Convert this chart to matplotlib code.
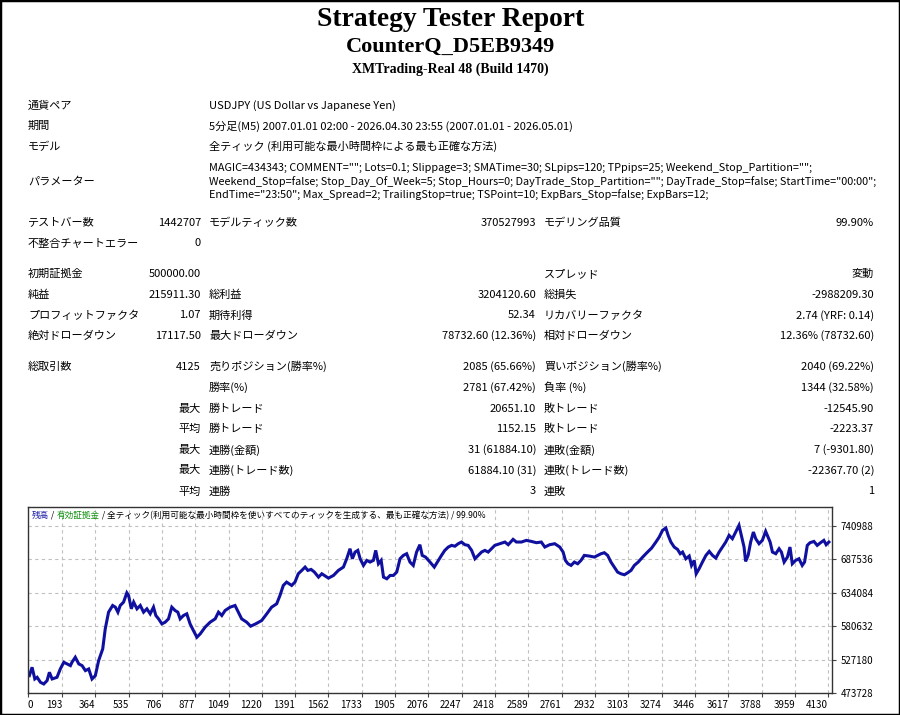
import matplotlib
matplotlib.use("Agg")
import matplotlib.pyplot as plt
from matplotlib.patches import Rectangle

plt.rcParams['font.family'] = ['Noto Sans CJK JP', 'DejaVu Sans']

# ---- report header ----
report_title = "Strategy Tester Report"
ea_name = "CounterQ_D5EB9349"
server_name = "XMTrading-Real 48 (Build 1470)"

info_labels = ["通貨ペア", "期間", "モデル"]
info_values = [
    "USDJPY (US Dollar vs Japanese Yen)",
    "5分足(M5) 2007.01.01 02:00 - 2026.04.30 23:55 (2007.01.01 - 2026.05.01)",
    "全ティック (利用可能な最小時間枠による最も正確な方法)",
]
param_label = "パラメーター"
param_lines = [
    'MAGIC=434343; COMMENT=""; Lots=0.1; Slippage=3; SMATime=30; SLpips=120; TPpips=25; Weekend_Stop_Partition="";',
    'Weekend_Stop=false; Stop_Day_Of_Week=5; Stop_Hours=0; DayTrade_Stop_Partition=""; DayTrade_Stop=false; StartTime="00:00";',
    'EndTime="23:50"; Max_Spread=2; TrailingStop=true; TSPoint=10; ExpBars_Stop=false; ExpBars=12;',
]

# ---- statistics table (label, value, label, value, label, value) ----
stat_rows = [
    ["テストバー数", "1442707", "モデルティック数", "370527993", "モデリング品質", "99.90%"],
    ["不整合チャートエラー", "0", "", "", "", ""],
    ["初期証拠金", "500000.00", "", "", "スプレッド", "変動"],
    ["純益", "215911.30", "総利益", "3204120.60", "総損失", "-2988209.30"],
    ["プロフィットファクタ", "1.07", "期待利得", "52.34", "リカバリーファクタ", "2.74 (YRF: 0.14)"],
    ["絶対ドローダウン", "17117.50", "最大ドローダウン", "78732.60 (12.36%)", "相対ドローダウン", "12.36% (78732.60)"],
    ["総取引数", "4125", "売りポジション(勝率%)", "2085 (65.66%)", "買いポジション(勝率%)", "2040 (69.22%)"],
    ["", "", "勝率(%)", "2781 (67.42%)", "負率 (%)", "1344 (32.58%)"],
    ["", "最大", "勝トレード", "20651.10", "敗トレード", "-12545.90"],
    ["", "平均", "勝トレード", "1152.15", "敗トレード", "-2223.37"],
    ["", "最大", "連勝(金額)", "31 (61884.10)", "連敗(金額)", "7 (-9301.80)"],
    ["", "最大", "連勝(トレード数)", "61884.10 (31)", "連敗(トレード数)", "-22367.70 (2)"],
    ["", "平均", "連勝", "3", "連敗", "1"],
]

# ---- balance curve ----
trades = [25, 39, 53, 65, 82, 99, 116, 128, 142, 167, 184, 202, 219, 236, 244, 261, 279, 296, 313, 330,
          347, 364, 381, 402, 415, 432, 453, 467, 480, 492, 509, 526, 535, 549, 561, 578, 595, 612, 629, 646,
          663, 675, 689, 706, 723, 740, 757, 774, 788, 800, 817, 834, 851, 868, 886, 903, 928, 954, 980, 997,
          1014, 1031, 1057, 1082, 1099, 1116, 1142, 1162, 1188, 1219, 1245, 1270, 1296, 1313, 1330, 1347, 1373, 1390, 1407,
          1425, 1442, 1456, 1473, 1490, 1511, 1528, 1541, 1562, 1588, 1613, 1639, 1656, 1673, 1685, 1699, 1713, 1725, 1742, 1759,
          1776, 1793, 1805, 1819, 1833, 1845, 1862, 1879, 1896, 1913, 1930, 1947, 1964, 1981, 1998, 2015, 2032, 2044, 2061, 2084,
          2106, 2127, 2143, 2160, 2178, 2195, 2212, 2229, 2246, 2263, 2280, 2298, 2315, 2332, 2349, 2366, 2383, 2400, 2417, 2443,
          2469, 2486, 2511, 2528, 2554, 2579, 2605, 2631, 2656, 2674, 2699, 2725, 2751, 2768, 2780, 2793,
          2809, 2826, 2843, 2860, 2877, 2903, 2929, 2946, 2963, 2980, 2997, 3014, 3031, 3048, 3065, 3083, 3100, 3117, 3134, 3154,
          3177, 3202, 3223, 3245, 3262, 3279, 3296, 3308, 3322, 3339, 3356, 3370, 3382, 3399, 3416, 3428, 3442, 3452, 3467, 3484,
          3502, 3519, 3536, 3553, 3570, 3587, 3604, 3621, 3638, 3655, 3672, 3684, 3698, 3706, 3719, 3732, 3746, 3758, 3775, 3792,
          3809, 3821, 3832, 3844, 3861, 3878, 3890, 3904, 3921, 3934, 3946, 3963, 3980, 3997, 4009, 4023, 4037, 4057, 4074, 4091,
          4108, 4120, 4134]
balance = [501523, 514886, 496178, 498850, 490833, 488160, 493505, 506868, 496178, 498850,
           512213, 522904, 520231, 517559, 522904, 530922, 520231, 517559, 509541, 512213,
           496178, 501523, 525576, 544285, 576356, 603082, 613772, 611100, 603082, 613772,
           619119, 634084, 629808, 608427, 619119, 608427, 613772, 603082, 608427, 600409,
           611100, 597737, 592391, 584374, 587046, 592391, 611100, 605755, 603082, 592391,
           597737, 600409, 584374, 573683, 562993, 568338, 579028, 587046, 592391, 603082,
           597737, 605755, 611100, 613772, 603082, 592391, 587046, 580632, 584374, 589719,
           600409, 611100, 616446, 629808, 645843, 651188, 645843, 651188, 664552,
           669897, 675242, 669897, 671500, 667225, 659208, 664552, 661880, 657604, 661880,
           669897, 675242, 688605, 704641, 688605, 699295, 701968, 688605, 677915, 685933,
           683260, 685933, 701968, 680587, 685933, 659208, 656536, 661880, 661880, 667225,
           688605, 693950, 696622, 683260, 677915, 699295, 711055, 693950, 691277, 683260,
           675242, 685933, 693950, 701968, 707313, 709986, 708650, 712658, 715331, 711055,
           709986, 701968, 688605, 693950, 699295, 701968, 699295, 704641, 709986, 712658,
           715331, 711055, 719607, 715331, 715331, 718004, 716319, 714262, 715331, 707313,
           711055, 712658, 707313, 699295, 685933, 680587,
           677915, 683260, 680587, 685933, 693950, 692881, 691277, 693950, 696622, 698227,
           693950, 683260, 675242, 667225, 664552, 662949, 666156, 669897, 677915, 683260,
           691277, 699295, 705710, 715331, 723349, 734039, 737781, 726021, 715331, 707313,
           703572, 696622, 699295, 688605, 692881, 677915, 685933, 664552, 672570, 683260,
           693950, 700364, 693950, 689674, 699295, 707313, 715331, 726021, 720676, 731366,
           742057, 726021, 707313, 684329, 693950, 715331, 731366, 720676, 712658, 718004,
           732436, 723349, 715331, 699295, 696622, 704641, 699295, 683260, 691277, 707313,
           680587, 685933, 688605, 677915, 683260, 709986, 714262, 716319, 709986, 714262,
           718004, 711055, 715331]

x_ticks = [0, 193, 364, 535, 706, 877, 1049, 1220, 1391, 1562, 1733, 1905, 2076, 2247,
           2418, 2589, 2761, 2932, 3103, 3274, 3446, 3617, 3788, 3959, 4130]
y_ticks = [473728, 527180, 580632, 634084, 687536, 740988]

legend_parts = [("残高", "#1a1aa6"), (" / ", "black"), ("有効証拠金", "#109010"), (" / ", "black"),
                ("全ティック(利用可能な最小時間枠を使いすべてのティックを生成する、最も正確な方法) / 99.90%", "black")]

W, H = 900, 715
fig = plt.figure(figsize=(W / 100, H / 100), dpi=100)
fig.patch.set_facecolor("white")


def fx(x):
    return x / W


def fy(y):
    return 1 - y / H


# titles
serif = "Liberation Serif"
fig.text(fx(451), fy(19), report_title, family=serif, weight="bold", fontsize=19.8, ha="center", va="center")
fig.text(fx(451), fy(47), ea_name, family=serif, weight="bold", fontsize=16, ha="center", va="center")
fig.text(fx(450), fy(69), server_name, family=serif, weight="bold", fontsize=10, ha="center", va="center")

fs = 8
# general info rows
for i, (lab, val) in enumerate(zip(info_labels, info_values)):
    y = 105.5 + i * 20.5
    fig.text(fx(28), fy(y), lab, fontsize=fs, va="center")
    fig.text(fx(209), fy(y), val, fontsize=fs, va="center")
fig.text(fx(28), fy(181.5), param_label, fontsize=fs, va="center")
for i, line in enumerate(param_lines):
    fig.text(fx(209), fy(168 + i * 13.5), line, fontsize=7.8, va="center")

# stats table
row_y = [223, 243.5, 274, 295, 315.5, 336, 366.5, 387.5, 408.5, 429, 450, 470.5, 491.5]
col_x = [(28, "left"), (201, "right"), (209, "left"), (536, "right"), (544, "left"), (874, "right")]
for y, row in zip(row_y, stat_rows):
    for (x, ha), s in zip(col_x, row):
        if s:
            fig.text(fx(x), fy(y), s, fontsize=fs, ha=ha, va="center")

# equity chart
ax_l, ax_r, ax_t, ax_b = 28, 832, 507, 693
ax = fig.add_axes([fx(ax_l), fy(ax_b), (ax_r - ax_l) / W, (ax_b - ax_t) / H])
ax.plot(trades, balance, color="#1010a0", lw=2.2, solid_joinstyle="miter")
x_min, x_max = 18, 4150
ax.set_xlim(x_min, x_max)
ax.set_ylim(473728, 771400)

ax.set_xticks([max(v, x_min) for v in x_ticks])
ax.set_xticklabels([str(v) for v in x_ticks], fontsize=7)
for i, lbl in enumerate(ax.get_xticklabels()):
    lbl.set_ha("left" if i == 0 else "right")
ax.set_yticks(y_ticks)
ax.set_yticklabels([str(v) for v in y_ticks], fontsize=7)
ax.yaxis.tick_right()
ax.tick_params(axis="both", length=3, width=0.8, color="#444444", pad=2)
ax.tick_params(axis="y", pad=3)

ax.grid(True, color="#c0c0c0", linestyle=(0, (3, 3)), lw=0.8)
for sp in ax.spines.values():
    sp.set_color("#333333")
    sp.set_linewidth(1)

# legend line at top-left of the chart
lfs = 6.2
prev = ax.text(0.005, 0.955, legend_parts[0][0], transform=ax.transAxes, fontsize=lfs,
               color=legend_parts[0][1], va="center", ha="left")
for s, c in legend_parts[1:]:
    prev = ax.annotate(s, xy=(1, 0), xycoords=prev, fontsize=lfs, color=c, va="bottom", ha="left")

# outer frame
fig.patches.append(Rectangle((0, 0), 1, 1, transform=fig.transFigure, fill=False,
                             ec="black", lw=2.5))

fig.savefig("out.png", dpi=100, facecolor="white")
